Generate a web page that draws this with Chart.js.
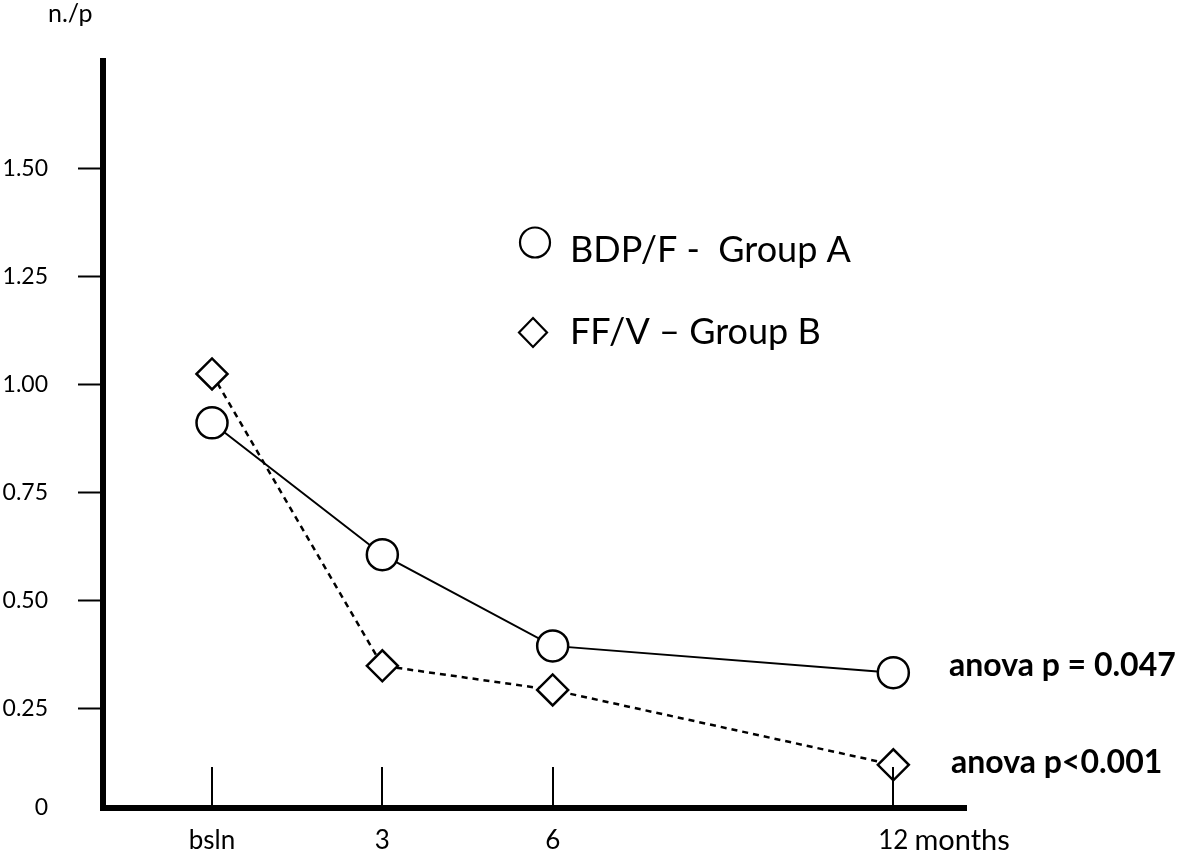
<!DOCTYPE html>
<html>
<head>
<meta charset="utf-8">
<script src="https://cdn.jsdelivr.net/npm/chart.js@4.4.1/dist/chart.umd.min.js"></script>
<style>
  html, body { margin: 0; padding: 0; background: #ffffff; }
  #wrap { width: 1181px; height: 852px; position: relative; }
</style>
</head>
<body>
<div id="wrap"><canvas id="c" width="1181" height="852"></canvas></div>
<script>
// ---- data ----
const months = [0, 3, 6, 12];
const xTickLabels = ['bsln', '3', '6', '12'];
const groupA = [0.911, 0.606, 0.395, 0.333];   // BDP/F - Group A
const groupB = [1.024, 0.349, 0.293, 0.120];   // FF/V - Group B
const yTickValues = [0, 0.25, 0.50, 0.75, 1.00, 1.25, 1.50];
const yTickLabels = ['0', '0.25', '0.50', '0.75', '1.00', '1.25', '1.50'];
const seriesNames = ['BDP/F -  Group A', 'FF/V \u2013 Group B'];
const pValues = ['anova p = 0.047', 'anova p<0.001'];
const yAxisTitle = 'n./p';
const xAxisUnit = 'months';

const FONT = 'Lato, "Open Sans", sans-serif';
const Y_FLOOR = 0.02;   // the drawn axis sits at this level; labelled "0"
const X_FONT_SIZE = 26;

const annotPlugin = {
  id: 'annot',
  afterDatasetsDraw(chart) {
    const ctx = chart.ctx;
    const xs = chart.scales.x;
    const area = chart.chartArea;
    ctx.save();
    // x tick marks drawn upward from the axis
    ctx.strokeStyle = '#000';
    ctx.lineWidth = 2;
    months.forEach(m => {
      const px = Math.round(xs.getPixelForValue(m));
      ctx.beginPath();
      ctx.moveTo(px, area.bottom - 41);
      ctx.lineTo(px, area.bottom - 2);
      ctx.stroke();
    });
    ctx.restore();
  },
  afterDraw(chart) {
    const ctx = chart.ctx;
    const xs = chart.scales.x;
    ctx.save();
    ctx.fillStyle = '#000';
    ctx.textBaseline = 'alphabetic';
    ctx.textAlign = 'left';
    // y axis title
    ctx.font = '25px ' + FONT;
    ctx.fillText(yAxisTitle, 48, 22);
    // "months" after the 12 label
    ctx.font = X_FONT_SIZE + 'px ' + FONT;
    const w12 = ctx.measureText(xTickLabels[3]).width;
    ctx.font = '29px ' + FONT;
    ctx.fillText(xAxisUnit, xs.getPixelForValue(12) + w12 / 2 + 6, 850);
    // legend
    ctx.lineWidth = 2.2;
    ctx.strokeStyle = '#000';
    ctx.beginPath();
    ctx.arc(535, 242.5, 15, 0, Math.PI * 2);
    ctx.fillStyle = '#fff'; ctx.fill(); ctx.stroke();
    ctx.beginPath();
    ctx.moveTo(533, 318); ctx.lineTo(547, 332.5); ctx.lineTo(533, 347); ctx.lineTo(519, 332.5); ctx.closePath();
    ctx.fill(); ctx.stroke();
    ctx.fillStyle = '#000';
    ctx.font = '36px ' + FONT;
    ctx.fillText(seriesNames[0], 570, 262);
    ctx.fillText(seriesNames[1], 570, 344);
    // anova annotations
    ctx.font = 'bold 32px ' + FONT;
    ctx.fillText(pValues[0], 949, 676);
    ctx.fillText(pValues[1], 951, 773);
    ctx.restore();
  }
};

new Chart(document.getElementById('c'), {
  type: 'line',
  data: {
    datasets: [
      {
        label: seriesNames[0],
        data: months.map((m, i) => ({ x: m, y: groupA[i] })),
        borderColor: '#000',
        borderWidth: 2,
        pointStyle: 'circle',
        pointRadius: 15.5,
        pointBorderWidth: 2.5,
        pointBackgroundColor: '#fff',
        pointBorderColor: '#000',
        tension: 0
      },
      {
        label: seriesNames[1],
        data: months.map((m, i) => ({ x: m, y: groupB[i] })),
        borderColor: '#000',
        borderWidth: 2.5,
        borderDash: [6, 5],
        pointStyle: 'rectRot',
        pointRadius: 15.5,
        pointBorderWidth: 2.5,
        pointBackgroundColor: '#fff',
        pointBorderColor: '#000',
        tension: 0
      }
    ]
  },
  options: {
    responsive: false,
    animation: false,
    clip: false,
    layout: { padding: { left: 0, right: 215, top: 61, bottom: 0 } },
    plugins: { legend: { display: false }, tooltip: { enabled: false } },
    scales: {
      x: {
        type: 'linear',
        min: -1.92,
        max: 13.28,
        afterFit(s) { s.height = 44; },
        afterBuildTicks(s) { s.ticks = months.map(v => ({ value: v })); },
        grid: { display: false, drawTicks: false },
        border: { display: true, color: '#000', width: 6 },
        ticks: {
          autoSkip: false, maxRotation: 0, padding: 17,
          color: '#000',
          font: { family: FONT, size: X_FONT_SIZE },
          callback: (v, i) => xTickLabels[i]
        }
      },
      y: {
        type: 'linear',
        min: Y_FLOOR,
        max: 1.748,
        afterFit(s) { s.width = 103; },
        afterBuildTicks(s) { s.ticks = yTickValues.map(v => ({ value: v === 0 ? Y_FLOOR : v })); },
        grid: {
          drawOnChartArea: false, drawTicks: true, tickLength: 25, tickWidth: 2,
          tickColor: (c) => (c.index === 0 ? 'rgba(0,0,0,0)' : '#000')
        },
        border: { display: true, color: '#000', width: 6 },
        ticks: {
          autoSkip: false, padding: 30,
          color: '#000',
          font: { family: FONT, size: 23 },
          callback: (v, i) => yTickLabels[i]
        }
      }
    }
  },
  plugins: [annotPlugin]
});
</script>
</body>
</html>
